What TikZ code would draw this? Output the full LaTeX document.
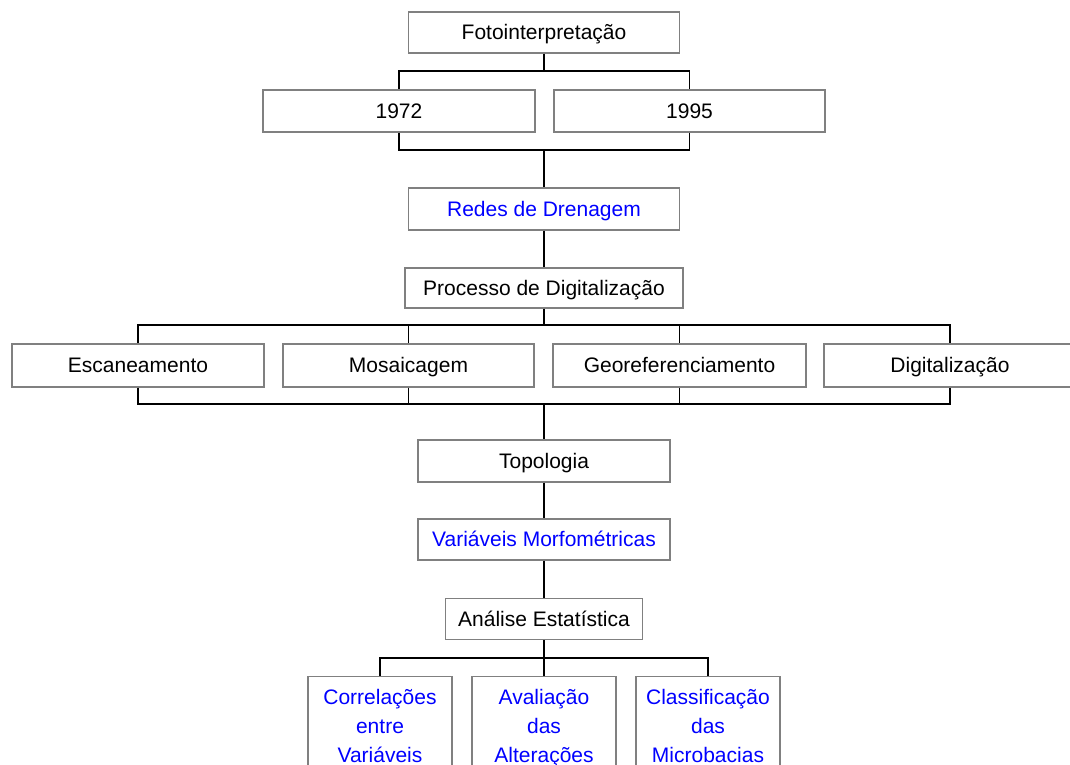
\documentclass[tikz,border=0pt]{standalone}
\usepackage{fontspec}
\setmainfont{Liberation Sans}
\begin{document}
\begin{tikzpicture}[x=1pt,y=-1pt,
  frame/.style={draw=black!50, line width=1.4pt, fill=white, inner sep=0pt,
    font=\fontsize{21}{29}\selectfont},
  box/.style={frame, text height=16pt, text depth=2pt},
  blue box/.style={box, text=blue},
  tall box/.style={frame, text=blue, anchor=north, text width=144pt,
    align=center, inner ysep=13pt},
  link/.style={draw=black, line width=1.8pt}]
\useasboundingbox (0,0) rectangle (1070,764);
\clip (0,0) rectangle (1070,764);

% junction points of the bracket connectors
\coordinate (j1) at (544,71);
\coordinate (j2) at (544,150);
\coordinate (j3) at (544,325);
\coordinate (j4) at (544,404);
\coordinate (j5) at (544,658);

% boxes
\node[box, minimum width=271pt, minimum height=41pt] (foto) at (544,32.5) {Fotointerpretação};
\node[box, minimum width=272pt, minimum height=42pt] (y1972) at (399,111) {1972};
\node[box, minimum width=271pt, minimum height=42pt] (y1995) at (689.5,111) {1995};
\node[blue box, minimum width=271pt, minimum height=42pt] (redes) at (544,209) {Redes de Drenagem};
\node[box, minimum width=278pt, minimum height=40pt] (proc) at (544,288) {Processo de Digitalização};
\node[box, minimum width=252pt, minimum height=43pt] (esc) at (138,365.5) {Escaneamento};
\node[box, minimum width=251pt, minimum height=43pt] (mos) at (408.5,365.5) {Mosaicagem};
\node[box, minimum width=253pt, minimum height=43pt] (geo) at (679.5,365.5) {Georeferenciamento};
\node[box, minimum width=252pt, minimum height=43pt] (dig) at (950,365.5) {Digitalização};
\node[box, minimum width=252pt, minimum height=42pt] (topo) at (544,461) {Topologia};
\node[blue box, minimum width=252pt, minimum height=41pt] (var) at (544,539.5) {Variáveis Morfométricas};
\node[box, minimum width=197pt, minimum height=41pt] (ana) at (544,619) {Análise Estatística};
\node[tall box] (corr) at (380,676) {Correlações\\entre\\Variáveis\\\phantom{x}};
\node[tall box] (aval) at (544,676) {Avaliação\\das\\Alterações\\\phantom{x}};
\node[tall box] (clas) at (708,676) {Classificação\\das\\Microbacias\\\phantom{x}};

% connectors
\draw[link] (foto.south) -- (j1);
\draw[link] (j1) -| (y1972.north);
\draw[link] (j1) -| (y1995.north);
\draw[link] (y1972.south) |- (j2);
\draw[link] (y1995.south) |- (j2);
\draw[link] (j2) -- (redes.north);
\draw[link] (redes.south) -- (proc.north);
\draw[link] (proc.south) -- (j3);
\draw[link] (j3) -| (esc.north);
\draw[link] (j3) -| (mos.north);
\draw[link] (j3) -| (geo.north);
\draw[link] (j3) -| (dig.north);
\draw[link] (esc.south) |- (j4);
\draw[link] (mos.south) |- (j4);
\draw[link] (geo.south) |- (j4);
\draw[link] (dig.south) |- (j4);
\draw[link] (j4) -- (topo.north);
\draw[link] (topo.south) -- (var.north);
\draw[link] (var.south) -- (ana.north);
\draw[link] (ana.south) -- (j5);
\draw[link] (j5) -| (corr.north);
\draw[link] (j5) -| (aval.north);
\draw[link] (j5) -| (clas.north);
\end{tikzpicture}
\end{document}
